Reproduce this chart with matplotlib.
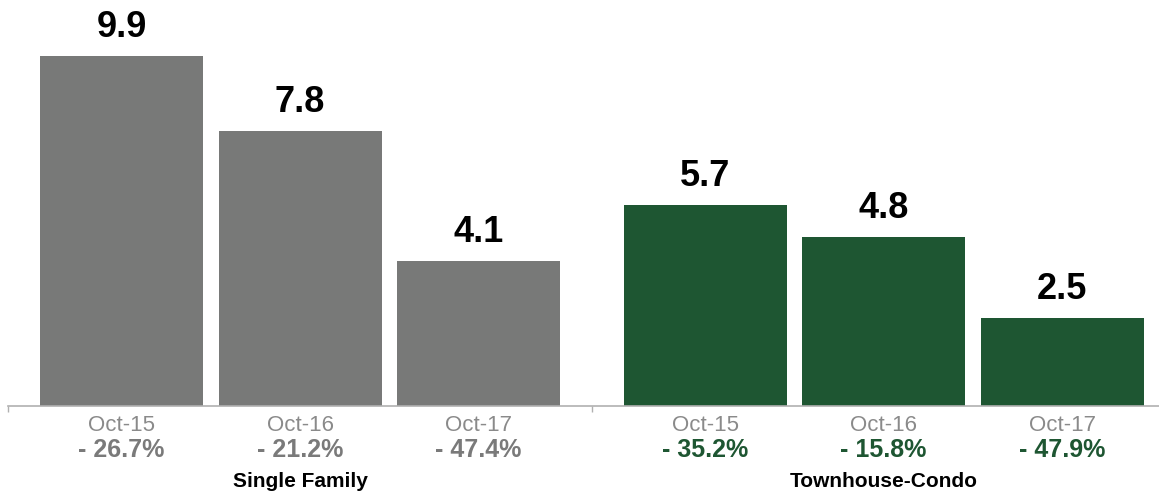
import matplotlib
matplotlib.use("Agg")
import matplotlib.pyplot as plt

plt.rcParams['font.family'] = ['Liberation Sans', 'DejaVu Sans']

groups = ["Single Family", "Townhouse-Condo"]
periods = ["Oct-15", "Oct-16", "Oct-17"]
single_family = [9.9, 7.8, 4.1]
townhouse_condo = [5.7, 4.8, 2.5]
sf_changes = ["- 26.7%", "- 21.2%", "- 47.4%"]
tc_changes = ["- 35.2%", "- 15.8%", "- 47.9%"]

gray = "#787978"
green = "#1e5632"
colors = [gray, green]
change_colors = ["#7a7a7a", "#1e5632"]

fig = plt.figure(figsize=(11.59, 4.93), dpi=100)
ax = fig.add_axes([0, 87 / 493, 1, 406 / 493])

step_gap = 1.269
bar_w = 0.913
series = [single_family, townhouse_condo]
changes = [sf_changes, tc_changes]

for g, (vals, chg) in enumerate(zip(series, changes)):
    offset = g * (len(vals) - 1 + step_gap)
    xs = [offset + i for i in range(len(vals))]
    ax.bar(xs, vals, width=bar_w, color=colors[g], zorder=2)
    for x, v, p, c in zip(xs, vals, periods, chg):
        ax.annotate(f"{v:.1f}", xy=(x, v), xytext=(0, 19 * 0.72), textcoords="offset points",
                    ha="center", va="baseline", fontsize=26, fontweight="bold", color="black")
        ax.annotate(p, xy=(x, 0), xytext=(0, -25 * 0.72), textcoords="offset points",
                    ha="center", va="baseline", fontsize=16, color="#8a8a8a", annotation_clip=False)
        ax.annotate(c, xy=(x, 0), xytext=(0, -51 * 0.72), textcoords="offset points",
                    ha="center", va="baseline", fontsize=18, fontweight="bold",
                    color=change_colors[g], annotation_clip=False)
    ax.annotate(groups[g], xy=(xs[1], 0), xytext=(0, -81 * 0.72), textcoords="offset points",
                ha="center", va="baseline", fontsize=15, fontweight="bold", color="black",
                annotation_clip=False)

left = -0.681
right = 5.812
ax.set_xlim(left, right)
ax.set_ylim(0, 11.5)

edge = -0.636
mid = 2 + step_gap / 2
for s in ["top", "right", "left"]:
    ax.spines[s].set_visible(False)
ax.spines["bottom"].set_color("#b0b0b0")
ax.spines["bottom"].set_linewidth(1.2)
ax.spines["bottom"].set_bounds(edge, right)
ax.set_xticks([edge, mid])
ax.set_xticklabels(["", ""])
ax.tick_params(axis="x", length=4.5, color="#b0b0b0", width=1.0)
ax.set_yticks([])

fig.savefig("out.png", dpi=100)
